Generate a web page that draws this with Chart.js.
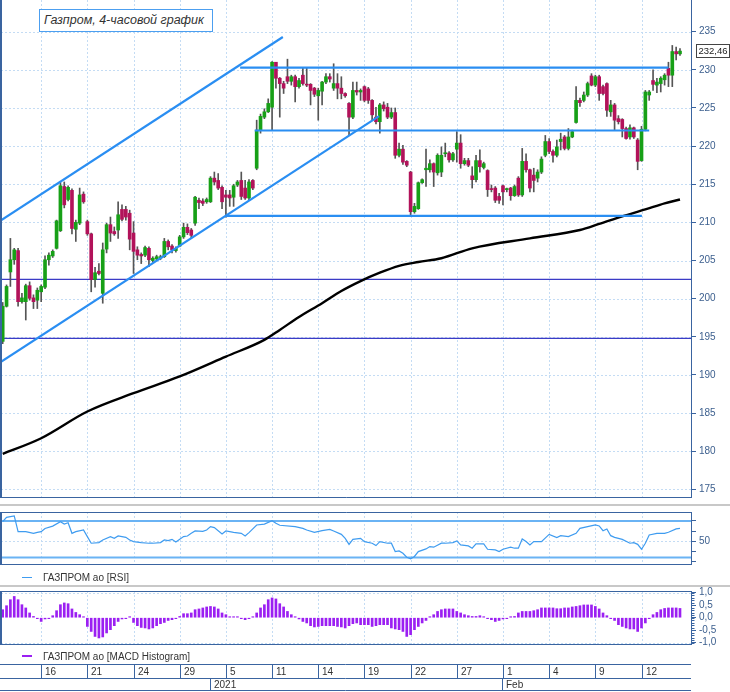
<!DOCTYPE html>
<html>
<head>
<meta charset="utf-8">
<script src="https://cdn.jsdelivr.net/npm/chart.js@4.4.1/dist/chart.umd.min.js"></script>
<style>
  body { margin: 0; background: #fff; width: 730px; height: 692px; overflow: hidden; position: relative;
         font-family: "Liberation Sans", Arial, sans-serif; }
  canvas { position: absolute; left: 0; }
  #main { top: 0; }
  #rsi { top: 507px; }
  #macd { top: 587px; }
  .sep { position: absolute; left: 0; width: 730px; height: 2px; background: #c8c8c8; }
  .title { position: absolute; left: 39px; top: 9px; width: 174px; height: 23px; box-sizing: border-box;
           border: 1px solid #4c9ff0; background: #fff; font-style: italic; font-size: 12.5px; color: #333;
           line-height: 21px; padding-left: 4px; white-space: nowrap; }
  .legend { position: absolute; left: 0; height: 14px; display: flex; align-items: center;
            font-size: 10px; color: #333; white-space: nowrap; }
  .legend span { display: inline-block; width: 10px; margin-left: 22px; margin-right: 11px; }
</style>
</head>
<body>
<canvas id="main" width="730" height="500"></canvas>
<div class="sep" style="top:504px"></div>
<canvas id="rsi" width="730" height="78"></canvas>
<div class="sep" style="top:585px"></div>
<canvas id="macd" width="730" height="105"></canvas>
<div class="title">Газпром, 4-часовой график</div>
<div class="legend" style="top:570px"><span style="border-top:1px solid #3f9cf0"></span>ГАЗПРОМ ао [RSI]</div>
<div class="legend" style="top:649px"><span style="border-top:2px solid #9b1ff2"></span>ГАЗПРОМ ао [MACD Histogram]</div>
<script>
// ---- data (4h candles, 11 Dec 2020 - 16 Feb 2021), [open, high, low, close]
const candles = [
  [194.4,199.5,194.1,199.0],[199.0,201.8,198.9,201.6],[203.5,207.9,201.6,205.1],[205.1,206.6,204.5,206.4],
  [206.3,206.6,199.0,199.6],[199.6,200.7,199.4,200.1],[199.6,201.9,197.2,201.7],[201.7,202.2,199.8,200.05],
  [200.1,200.5,198.7,199.6],[199.8,201.4,198.7,201.1],[200.9,201.8,199.6,201.6],[201.5,205.6,201.3,205.1],
  [205.1,206.0,204.4,205.7],[205.6,206.4,205.4,206.2],[206.6,210.3,206.5,210.2],[208.9,215.3,208.8,214.8],
  [214.7,215.3,211.9,212.3],[213.0,214.8,212.8,214.6],[214.2,214.4,208.5,209.2],[209.1,210.3,207.5,210.0],
  [209.9,214.5,209.7,213.6],[213.7,214.0,212.5,212.7],[210.1,210.3,208.3,208.5],[208.5,208.6,200.9,202.5],
  [202.5,204.1,201.5,203.4],[203.6,204.6,203.1,203.3],[200.7,207.3,199.4,206.4],[206.5,209.9,206.0,209.7],
  [209.7,210.7,207.5,208.6],[208.8,209.4,208.3,208.5],[209.0,212.7,207.9,211.0],[211.7,212.3,210.2,210.4],
  [211.7,212.1,210.3,210.7],[211.2,211.6,206.4,207.8],[208.6,210.1,203.3,206.2],[206.4,206.8,205.1,205.7],
  [205.8,206.0,204.6,205.6],[205.7,206.9,205.5,206.7],[206.6,206.8,204.2,205.1],[205.0,205.5,204.8,205.3],
  [205.2,205.7,205.0,205.5],[205.3,205.7,205.1,205.5],[205.5,207.9,205.4,207.5],[207.5,207.7,206.4,206.8],
  [206.9,207.1,206.0,206.4],[206.3,206.8,206.1,206.6],[206.9,208.3,206.8,208.1],[208.1,209.9,207.9,209.35],
  [209.35,209.8,208.4,208.65],[209.0,209.2,208.0,208.3],[209.9,213.4,209.6,213.3],[212.9,213.2,211.8,212.6],
  [212.8,213.1,212.2,212.5],[212.7,213.2,212.5,213.0],[212.7,216.0,212.6,215.8],[215.8,216.6,214.9,215.3],
  [215.5,216.4,214.3,214.5],[214.6,214.8,211.8,212.7],[213.6,214.2,210.7,213.3],[213.6,214.2,212.1,213.2],
  [213.3,215.0,212.1,214.8],[214.9,215.5,214.7,215.3],[215.5,216.6,213.0,213.4],[214.5,215.5,213.0,213.2],
  [213.2,215.6,212.9,215.3],[215.5,215.6,214.3,214.5],[217.1,223.4,216.9,222.1],[222.1,224.2,221.7,223.9],
  [223.8,224.9,223.6,224.5],[224.5,226.2,224.4,225.6],[225.1,231.1,222.1,231.0],[231.0,231.0,227.6,228.9],
  [228.9,229.0,223.8,228.2],[228.2,228.5,226.9,227.6],[229.1,231.4,228.2,228.5],[228.5,229.3,228.0,229.1],
  [229.1,229.3,225.8,227.8],[227.8,228.9,227.6,228.6],[229.3,230.2,228.0,228.2],[228.1,230.2,227.8,228.0],
  [228.1,228.2,225.4,227.3],[227.6,227.7,226.5,226.8],[226.6,227.6,223.4,227.3],[227.2,228.5,225.4,228.4],
  [228.4,229.5,228.2,229.1],[229.1,229.5,228.4,228.8],[227.6,230.8,227.3,228.2],[228.2,229.5,226.2,227.6],
  [227.6,229.1,226.2,226.9],[226.9,227.0,226.4,226.6],[225.6,225.7,221.4,223.8],[223.8,228.4,223.6,227.3],
  [227.3,228.4,226.7,227.1],[227.1,227.5,226.0,227.3],[227.8,227.9,225.8,226.0],[227.5,227.7,225.6,226.0],
  [226.0,226.1,223.4,224.1],[223.8,225.1,222.9,223.2],[223.2,225.6,221.7,225.4],[225.4,225.8,224.6,224.9],
  [225.1,225.6,223.6,223.8],[223.8,225.0,223.6,224.4],[224.4,225.0,218.4,218.8],[218.8,220.4,218.6,219.6],
  [219.6,220.1,217.6,217.9],[218.0,218.1,217.3,217.5],[216.6,216.7,210.8,211.4],[211.4,212.5,211.2,212.1],
  [211.8,215.3,211.7,215.2],[215.2,215.7,215.1,215.6],[216.9,219.6,214.7,217.1],[216.9,218.2,216.6,217.7],
  [217.7,217.8,214.7,216.6],[216.5,219.0,216.2,218.8],[216.6,219.9,216.0,218.8],[219.0,220.4,218.6,219.1],
  [219.1,219.3,217.9,218.2],[218.2,219.2,218.0,219.0],[219.6,221.9,217.9,220.4],[220.4,221.5,217.1,217.7],
  [217.7,218.4,217.5,218.1],[218.1,218.4,217.3,217.5],[216.1,217.3,214.5,215.6],[215.6,218.8,215.3,218.1],
  [218.1,219.5,216.6,217.3],[217.2,217.9,217.0,217.7],[216.8,216.9,213.4,214.3],[214.4,214.9,214.0,214.3],
  [214.5,214.7,212.6,212.9],[213.4,213.8,212.5,212.9],[214.8,214.9,212.3,214.0],[214.3,214.5,214.0,214.4],
  [214.5,214.6,212.9,213.5],[213.5,214.9,213.4,214.7],[215.8,216.0,213.4,213.6],[213.6,219.7,213.4,218.0],
  [218.0,219.0,216.6,216.9],[216.9,217.0,214.0,214.5],[216.2,217.1,214.0,215.5],[215.8,216.9,215.3,216.6],
  [216.6,218.6,216.4,218.3],[218.8,221.4,218.6,220.6],[220.6,221.0,219.0,219.3],[219.3,219.5,217.9,218.8],
  [218.8,220.8,218.6,219.9],[220.6,221.7,219.5,220.9],[221.2,221.4,219.5,219.7],[219.7,222.3,219.5,221.2],
  [221.2,222.1,221.1,221.9],[223.1,227.8,223.0,226.0],[226.0,226.3,225.2,225.7],[226.0,227.1,225.8,226.7],
  [226.7,228.4,226.5,228.2],[229.2,229.5,227.9,228.0],[228.0,229.3,227.8,229.1],[229.1,229.3,226.0,226.9],
  [227.8,228.0,226.7,226.9],[228.2,228.3,223.9,224.7],[224.5,226.0,223.9,225.4],[225.4,225.6,222.1,223.4],
  [223.6,224.0,222.9,223.2],[223.5,223.6,221.2,222.3],[222.3,222.5,220.9,221.0],[221.2,222.8,220.9,222.4],
  [222.4,222.5,221.0,221.2],[220.8,221.0,216.9,218.0],[218.1,222.6,218.0,222.2],[222.2,227.3,222.0,227.1],
  [226.7,227.3,226.0,227.1],[228.6,230.0,227.3,228.1],[228.0,228.9,227.0,228.4],[228.2,229.1,227.1,228.9],
  [228.7,229.5,228.0,229.3],[230.2,231.0,227.8,229.3],[229.3,233.2,227.8,232.4],[232.4,233.0,231.3,232.1],
  [232.1,232.8,231.9,232.46]
];

// 200-period moving average, [candle index, value]
const smaSeries = [
  [0,179.65],[10,181.7],[22,185.2],[34,187.6],[46,189.8],[58,192.4],[68,194.6],[72,195.9],[77,197.6],
  [83,199.4],[88,201.0],[93,202.3],[98,203.4],[103,204.3],[108,204.8],[114,205.3],[122,206.6],[137,207.9],
  [150,209.0],[155,209.8],[161,210.8],[167,211.7],[172,212.5],[176,213.0]
];

// drawn lines: [x start, price start, x end, price end]
const trendLines = [
  [-0.44,210.27,72.8,234.31],
  [-0.44,191.72,97.8,223.94],
  [61.7,230.28,173.0,230.28],
  [65.5,222.05,168.0,222.05],
  [57.8,210.85,166.1,210.85]
];
const priceLevels = [202.54, 194.8];

const rsiSeries = [
  [0,69.2],[1,73.5],[3,74.8],[4,59.4],[6,59.4],[8,57.8],[9,58.8],[10,59.4],[11,62.6],[13,64.9],[15,69.2],
  [16,66.9],[17,68.2],[18,57.8],[19,59.4],[21,61.1],[22,54.6],[23,48.1],[25,48.7],[26,51.3],[28,54.6],
  [29,52.9],[30,55.2],[32,53.9],[33,51.3],[34,49.7],[36,48.7],[38,48.1],[39,48.1],[41,48.7],[42,51.3],
  [43,50.6],[44,51.9],[45,49.3],[47,54.6],[48,55.2],[49,57.8],[50,60.1],[52,59.8],[53,61.1],[54,64.4],
  [55,63.4],[57,57.2],[58,60.1],[60,58.8],[62,57.8],[63,55.2],[64,58.5],[66,66.0],[68,66.9],[70,70.2],
  [71,67.6],[72,65.7],[76,64.4],[78,62.7],[79,61.1],[81,58.8],[83,60.4],[85,61.7],[86,60.1],[88,56.8],
  [89,52.9],[90,47.0],[91,51.9],[93,52.9],[94,49.7],[96,48.1],[97,45.8],[98,49.7],[100,48.1],[101,48.1],
  [102,39.9],[103,40.6],[104,38.3],[105,34.4],[106,32.8],[107,35.1],[108,39.9],[110,42.5],[111,44.8],
  [112,44.2],[114,48.1],[115,48.1],[117,48.7],[118,50.4],[119,46.4],[121,45.5],[122,43.2],[123,47.4],
  [125,47.4],[126,42.2],[128,41.5],[129,39.9],[130,42.2],[132,44.2],[133,43.2],[134,43.2],[135,52.3],
  [136,49.7],[137,46.4],[138,49.7],[140,49.7],[142,56.8],[144,53.6],[145,55.5],[147,54.6],[149,57.8],
  [150,62.7],[152,64.4],[154,66.0],[155,65.0],[156,60.4],[157,62.1],[158,55.5],[159,53.9],[161,51.9],
  [163,48.1],[164,48.7],[165,47.0],[166,42.2],[167,48.1],[168,56.2],[170,57.8],[172,57.8],[173,58.8],
  [175,62.1],[176,62.7]
];
const rsiLevels = [70, 34];

const macdHist = [
  0.32,0.48,0.72,0.85,0.72,0.52,0.39,0.19,0.05,-0.02,
  -0.15,-0.05,-0.01,0.08,0.28,0.52,0.59,0.56,0.35,0.21,
  0.12,0.03,-0.35,-0.55,-0.75,-0.81,-0.77,-0.61,-0.48,-0.32,
  -0.15,-0.05,-0.01,0.03,-0.19,-0.32,-0.39,-0.41,-0.45,-0.41,
  -0.32,-0.24,-0.19,-0.11,-0.08,-0.03,0.05,0.16,0.16,0.19,
  0.32,0.35,0.39,0.43,0.45,0.43,0.35,0.19,0.12,0.03,
  0.03,0.03,-0.03,-0.08,-0.03,0.03,0.19,0.39,0.52,0.72,
  0.79,0.75,0.56,0.43,0.25,0.12,0.03,-0.05,-0.15,-0.21,
  -0.32,-0.37,-0.35,-0.32,-0.32,-0.32,-0.32,-0.35,-0.37,-0.41,
  -0.32,-0.24,-0.21,-0.28,-0.28,-0.28,-0.35,-0.32,-0.28,-0.28,
  -0.28,-0.41,-0.45,-0.48,-0.55,-0.75,-0.68,-0.48,-0.35,-0.21,
  -0.11,0.03,0.12,0.25,0.32,0.35,0.35,0.35,0.25,0.19,
  0.12,0.08,0.05,0.05,0.08,0.03,-0.01,-0.08,-0.15,-0.11,
  -0.05,-0.01,0.03,0.05,0.19,0.25,0.25,0.25,0.28,0.32,
  0.39,0.39,0.39,0.39,0.36,0.36,0.39,0.39,0.43,0.45,
  0.48,0.51,0.51,0.51,0.45,0.35,0.19,0.08,-0.01,-0.11,
  -0.28,-0.35,-0.41,-0.45,-0.45,-0.55,-0.41,-0.21,-0.01,0.12,
  0.21,0.32,0.37,0.39,0.39,0.39,0.37
];

// axis ticks and labels
const priceTicks = [175,180,185,190,195,200,205,210,215,220,225,230,235];
const rsiTickValues = [30,40,50,60,70];
const rsiTickLabels = ["","","50","",""];
const macdTickValues = [1,0.5,0,-0.5,-1];
const macdTickLabels = ["1,0","0,5","0,0","-0,5","-1,0"];
const dayGridIdx = [10,22,34,46,58,70,82,94,106,118,130,142,154,166];
const dayLabels = ["16","21","24","29","5","11","14","19","22","27","1","4","9","12"];
const monthIdx = [54,130];
const monthLabels = ["2021","Feb"];

// ---- style
const FONT = '"Liberation Sans", Arial, sans-serif';
const UP = "#17a017", DOWN = "#b2125a", WICK = "#555555";
const TREND = "#2a8ef2", LEVEL = "#3b3bc6", GRID = "#c4dcf4", AXIS = "#3a64a0", AXIS_TEXT = "#3c5f8e";
const RSI_LINE = "#3f9cf0", RSI_LEVEL = "#6ab3f4", MACD = "#9b1ff2";
const X_MIN = -0.44, X_MAX = 178.86;

const minorMacd = [];
for (let k = -10; k <= 10; k++) minorMacd.push(k / 10);

const panelCfg = {
  main: { hGrid: priceTicks, levels: priceLevels.map(v => ({ v, color: LEVEL, w: 1.2 })), sides: "lrb" },
  rsi:  { hGrid: [50], levels: rsiLevels.map(v => ({ v, color: RSI_LEVEL, w: 2 })), sides: "lrtb" },
  macd: { hGrid: [1, -1], levels: [], sides: "lrtb", minor: minorMacd }
};

const panelPlugin = {
  id: "panel",
  beforeDatasetsDraw(chart) {
    const cfg = panelCfg[chart.canvas.id];
    const { ctx, chartArea: a, scales: { x, y } } = chart;
    ctx.save();
    ctx.beginPath();
    ctx.rect(a.left, a.top, a.right - a.left, a.bottom - a.top);
    ctx.clip();
    ctx.strokeStyle = GRID;
    ctx.lineWidth = 1;
    ctx.setLineDash([2, 2]);
    ctx.beginPath();
    dayGridIdx.forEach(i => {
      const px = Math.round(x.getPixelForValue(i)) + 0.5;
      ctx.moveTo(px, a.top); ctx.lineTo(px, a.bottom);
    });
    cfg.hGrid.forEach(v => {
      const py = Math.round(y.getPixelForValue(v)) + 0.5;
      ctx.moveTo(a.left, py); ctx.lineTo(a.right, py);
    });
    ctx.stroke();
    ctx.setLineDash([]);
    cfg.levels.forEach(l => {
      const py = y.getPixelForValue(l.v);
      ctx.strokeStyle = l.color; ctx.lineWidth = l.w;
      ctx.beginPath(); ctx.moveTo(a.left, py); ctx.lineTo(a.right, py); ctx.stroke();
    });
    ctx.restore();
  },
  afterDraw(chart) {
    const cfg = panelCfg[chart.canvas.id];
    const { ctx, chartArea: a, scales: { y } } = chart;
    ctx.save();
    ctx.strokeStyle = AXIS;
    ctx.beginPath();
    ctx.lineWidth = 2;
    if (cfg.sides.includes("l")) { ctx.moveTo(a.left, a.top); ctx.lineTo(a.left, a.bottom); }
    ctx.stroke();
    ctx.beginPath();
    ctx.lineWidth = 1;
    const r = Math.round(a.right) + 0.5, b = Math.round(a.bottom) - 0.5, t = Math.round(a.top) + 0.5;
    if (cfg.sides.includes("r")) { ctx.moveTo(r, a.top); ctx.lineTo(r, a.bottom); }
    if (cfg.sides.includes("b")) { ctx.moveTo(a.left, b); ctx.lineTo(r, b); }
    if (cfg.sides.includes("t")) { ctx.moveTo(a.left, t); ctx.lineTo(r, t); }
    (cfg.minor || []).forEach(v => {
      const py = Math.round(y.getPixelForValue(v)) + 0.5;
      ctx.moveTo(r, py); ctx.lineTo(r + 3, py);
    });
    ctx.stroke();
    ctx.restore();
  }
};

const priceTagPlugin = {
  id: "priceTag",
  afterDraw(chart) {
    const { ctx, chartArea: a, scales: { y } } = chart;
    const last = candles[candles.length - 1][3];
    const py = Math.round(y.getPixelForValue(last));
    ctx.save();
    ctx.fillStyle = "#fff";
    ctx.fillRect(a.right + 5.5, py - 6.5, 33, 13);
    ctx.strokeStyle = "#444"; ctx.lineWidth = 1;
    ctx.strokeRect(a.right + 5.5, py - 6.5, 33, 13);
    ctx.fillStyle = "#222";
    ctx.font = "9.5px " + FONT;
    ctx.textBaseline = "middle";
    ctx.fillText(last.toFixed(2).replace(".", ","), a.right + 7.5, py + 0.5);
    ctx.restore();
  }
};

const dateAxisPlugin = {
  id: "dateAxis",
  afterDraw(chart) {
    const { ctx, chartArea: a, scales: { x } } = chart;
    const top = 77.5, mid = 91.5, bot = 103.5;
    ctx.save();
    ctx.strokeStyle = AXIS; ctx.lineWidth = 1;
    ctx.beginPath();
    [top, mid, bot].forEach(yy => { ctx.moveTo(0, yy); ctx.lineTo(a.right, yy); });
    dayGridIdx.forEach(i => {
      const px = Math.round(x.getPixelForValue(i)) + 0.5;
      ctx.moveTo(px, top); ctx.lineTo(px, mid);
    });
    monthIdx.forEach(i => {
      const px = Math.round(x.getPixelForValue(i) - 0.5) + 0.5;
      ctx.moveTo(px, mid); ctx.lineTo(px, bot);
    });
    ctx.stroke();
    ctx.fillStyle = "#333";
    ctx.font = "10px " + FONT;
    ctx.textBaseline = "middle";
    dayGridIdx.forEach((i, k) => ctx.fillText(dayLabels[k], Math.round(x.getPixelForValue(i)) + 4, (top + mid) / 2 + 0.5));
    monthIdx.forEach((i, k) => ctx.fillText(monthLabels[k], Math.round(x.getPixelForValue(i)) + 3, (mid + bot) / 2 + 0.5));
    ctx.restore();
  }
};

function xScale() {
  return { type: "linear", min: X_MIN, max: X_MAX, offset: false, display: false };
}
function yScale(min, max, values, labels) {
  return {
    type: "linear", position: "right", min, max,
    afterBuildTicks: s => { s.ticks = values.map(v => ({ value: v })); },
    afterFit: s => { s.width = 39; s.paddingTop = 0; s.paddingBottom = 0; },
    ticks: {
      color: AXIS_TEXT, font: { size: 10, family: FONT }, padding: 3, autoSkip: false,
      callback: v => labels[values.indexOf(v)]
    },
    grid: { drawOnChartArea: false, drawTicks: true, tickLength: 5, tickColor: AXIS, tickWidth: 1 },
    border: { display: false }
  };
}
const baseOptions = {
  responsive: false, animation: false, devicePixelRatio: 1,
  plugins: { legend: { display: false }, tooltip: { enabled: false } }
};

// main price panel
new Chart(document.getElementById("main"), {
  type: "bar",
  data: {
    datasets: [
      { type: "bar", order: 6, grouped: false, barThickness: 1, backgroundColor: WICK,
        data: candles.map((c, i) => ({ x: i, y: [c[2], c[1]] })) },
      { type: "bar", order: 5, grouped: false, barThickness: 3, minBarLength: 1, borderWidth: 0,
        backgroundColor: candles.map(c => c[3] >= c[0] ? UP : DOWN),
        data: candles.map((c, i) => ({ x: i, y: [c[0], c[3]] })) },
      { type: "line", order: 2, borderColor: "#000", borderWidth: 2.4, pointRadius: 0,
        cubicInterpolationMode: "monotone",
        data: smaSeries.map(p => ({ x: p[0], y: p[1] })) },
      ...trendLines.map(t => ({
        type: "line", order: 1, borderColor: TREND, borderWidth: 2.2, pointRadius: 0,
        data: [{ x: t[0], y: t[1] }, { x: t[2], y: t[3] }]
      }))
    ]
  },
  options: {
    ...baseOptions,
    layout: { padding: { left: 1, right: 0, top: 0, bottom: 2 } },
    scales: { x: xScale(), y: yScale(173.86, 239.16, priceTicks, priceTicks.map(String)) }
  },
  plugins: [panelPlugin, priceTagPlugin]
});

// RSI panel
new Chart(document.getElementById("rsi"), {
  type: "line",
  data: {
    datasets: [{ borderColor: RSI_LINE, borderWidth: 1.2, pointRadius: 0, tension: 0,
      data: rsiSeries.map(p => ({ x: p[0], y: p[1] })) }]
  },
  options: {
    ...baseOptions,
    layout: { padding: { left: 1, right: 0, top: 5, bottom: 20 } },
    scales: { x: xScale(), y: yScale(26.76, 78.7, rsiTickValues, rsiTickLabels) }
  },
  plugins: [panelPlugin]
});

// MACD histogram panel with the date strip underneath
new Chart(document.getElementById("macd"), {
  type: "bar",
  data: {
    datasets: [{ backgroundColor: MACD, barThickness: 2, minBarLength: 1, borderWidth: 0,
      data: macdHist.map((v, i) => ({ x: i, y: v })) }]
  },
  options: {
    ...baseOptions,
    layout: { padding: { left: 1, right: 0, top: 4, bottom: 47 } },
    scales: { x: xScale(), y: yScale(-1.092, 1.068, macdTickValues, macdTickLabels) }
  },
  plugins: [panelPlugin, dateAxisPlugin]
});
</script>
</body>
</html>
